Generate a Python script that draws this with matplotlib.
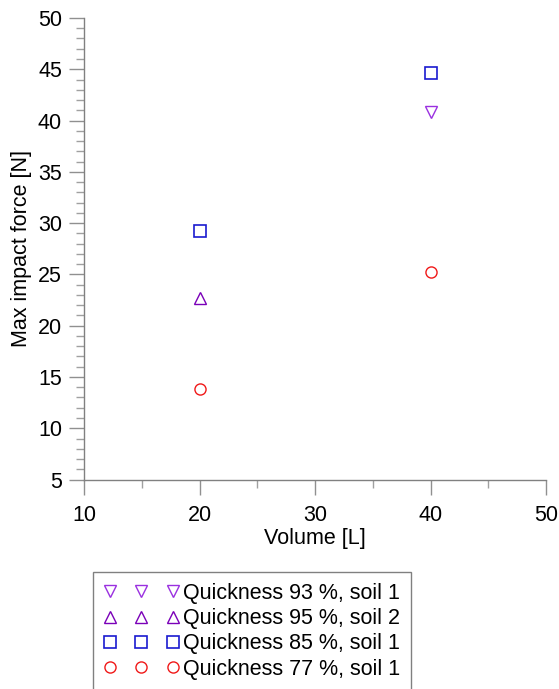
import matplotlib
matplotlib.use('Agg')
import matplotlib.pyplot as plt
from matplotlib.ticker import MultipleLocator

plt.rcParams['font.family'] = ['Liberation Sans', 'DejaVu Sans']

# Volume [L] e força máxima de impacto [N] para cada série
volume_93 = [40]
force_93 = [40.8]

volume_95 = [20]
force_95 = [22.7]

volume_85 = [20, 40]
force_85 = [29.2, 44.6]

volume_77 = [20, 40]
force_77 = [13.8, 25.2]

labels = ['Quickness 93 %, soil 1', 'Quickness 95 %, soil 2',
          'Quickness 85 %, soil 1', 'Quickness 77 %, soil 1']

fig = plt.figure(figsize=(5.59, 6.89), dpi=100)
ax = fig.add_axes([0.1508, 0.304, 0.826, 0.6699])

ms = 8
ax.plot(volume_93, force_93, linestyle='none', marker='v', ms=ms, mfc='none',
        mec='#9a30e0', mew=1, label=labels[0], clip_on=False)
ax.plot(volume_95, force_95, linestyle='none', marker='^', ms=ms, mfc='none',
        mec='#7a00b8', mew=1, label=labels[1], clip_on=False)
ax.plot(volume_85, force_85, linestyle='none', marker='s', ms=ms, mfc='none',
        mec='#1a1ad0', mew=1.2, label=labels[2], clip_on=False)
ax.plot(volume_77, force_77, linestyle='none', marker='o', ms=ms, mfc='none',
        mec='#f01818', mew=1, label=labels[3], clip_on=False)

ax.set_xlim(10, 50)
ax.set_ylim(5, 50)
ax.xaxis.set_major_locator(MultipleLocator(10))
ax.xaxis.set_minor_locator(MultipleLocator(5))
ax.yaxis.set_major_locator(MultipleLocator(5))
ax.yaxis.set_minor_locator(MultipleLocator(1))

for s in ['top', 'right']:
    ax.spines[s].set_visible(False)
for s in ['left', 'bottom']:
    ax.spines[s].set_color('#808080')
    ax.spines[s].set_linewidth(1)

fs = 15.5
ax.tick_params(which='major', direction='out', length=11, width=1,
               color='#909090', labelsize=fs, labelcolor='black', pad=5)
ax.tick_params(which='minor', direction='out', length=6, width=1,
               color='#a0a0a0')
ax.tick_params(axis='x', which='major', pad=7)

ax.set_xlabel('Volume [L]', fontsize=fs, labelpad=2)
ax.set_ylabel('Max impact force [N]', fontsize=fs, labelpad=4)

# legenda abaixo do gráfico, com três marcadores por entrada
leg = fig.legend(loc='upper left', bbox_to_anchor=(93 / 559, 1 - 572 / 689),
                 numpoints=3, fontsize=fs, handlelength=3.5,
                 handletextpad=0.2, borderpad=0.5, labelspacing=0.2,
                 borderaxespad=0, fancybox=False, framealpha=1)
leg.get_frame().set_edgecolor('#808080')
leg.get_frame().set_linewidth(1)

fig.savefig('out.png', dpi=100)
